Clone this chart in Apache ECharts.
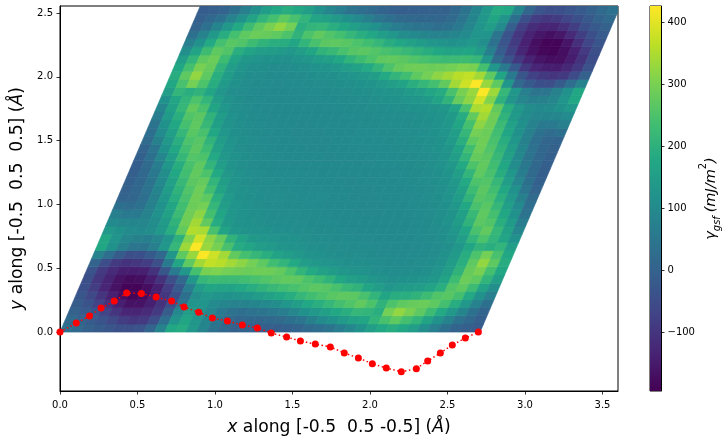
<!DOCTYPE html>
<html><head><meta charset="utf-8">
<script src="https://cdn.jsdelivr.net/npm/echarts@6/dist/echarts.min.js"></script>
<style>html,body{margin:0;padding:0;background:#fff}#c{width:728px;height:445px}</style>
</head><body><div id="c"></div>
<script>
const heatRows = [
[40,20,0,-15,-30,-42,-45,-35,5,80,175,185,135,85,45,15,0,0,-5,-8,-10,-5,5,18,30,42,65,90,115,150,175,190,175,150,110,70,35,5,-8,-12],
[20,5,-18,-35,-58,-85,-98,-90,-50,30,125,170,130,85,50,22,10,12,12,15,20,35,50,75,100,120,140,160,170,210,245,270,240,210,165,120,80,40,15,-8],
[0,-18,-30,-70,-100,-130,-133,-120,-90,-15,95,150,125,90,60,40,30,38,45,55,65,90,115,135,155,175,195,215,210,195,295,325,300,270,230,180,135,85,40,5],
[-15,-35,-70,-105,-140,-165,-163,-142,-105,-45,45,125,125,100,85,80,80,85,95,105,130,150,175,195,215,240,255,275,250,205,250,270,280,285,270,240,190,135,80,35],
[-30,-58,-100,-140,-172,-188,-178,-145,-98,-42,35,110,135,125,120,125,130,145,160,175,190,215,235,250,265,272,268,245,210,170,190,195,205,230,255,265,240,180,120,70],
[-42,-85,-130,-165,-188,-190,-172,-140,-85,-20,65,145,170,165,165,175,190,205,220,235,245,258,268,262,245,220,205,170,150,130,140,145,150,165,195,255,270,230,165,110],
[-45,-98,-133,-163,-178,-172,-145,-105,-45,15,130,215,230,225,225,235,245,255,268,275,272,250,230,205,175,155,145,130,122,112,115,120,124,132,165,230,285,270,210,150],
[-35,-90,-120,-142,-145,-140,-105,-30,60,130,240,300,305,295,290,285,290,288,278,250,210,180,160,145,130,122,118,112,108,104,106,108,112,124,150,205,280,300,240,175],
[5,-50,-90,-105,-98,-85,-45,60,170,270,340,370,360,340,320,295,270,235,210,180,150,135,125,118,113,110,108,104,102,100,102,104,108,120,145,195,270,325,270,190],
[80,30,-15,-45,-42,-20,15,130,270,330,425,380,340,275,240,215,195,165,148,135,122,116,112,108,105,103,102,100,99,98,100,102,106,115,140,190,250,295,245,175],
[175,115,75,50,45,70,130,215,335,425,330,300,245,185,170,150,140,128,122,118,112,108,105,103,101,100,99,98,97,97,98,100,104,112,130,170,205,195,210,150],
[175,125,90,75,72,90,125,200,310,385,320,280,205,165,138,130,125,120,116,112,106,104,102,100,99,98,97,96,96,97,99,102,108,122,150,210,250,210,170,115],
[135,115,102,95,105,135,190,275,355,345,245,165,130,122,118,115,112,110,107,105,102,101,99,98,97,96,96,95,96,98,100,104,112,130,170,245,275,215,160,90],
[100,88,85,90,105,140,205,290,340,275,185,138,122,115,110,107,106,104,103,102,100,99,97,96,95,95,95,96,97,99,102,108,118,145,205,268,255,195,140,65],
[70,58,58,80,115,160,225,290,320,240,170,130,118,112,108,105,104,103,102,101,98,97,96,95,94,94,95,96,98,100,103,110,122,155,220,272,240,175,120,42],
[35,25,40,75,120,170,235,285,295,215,150,125,115,110,106,104,102,101,100,99,97,96,95,94,93,94,95,97,99,101,105,113,130,175,245,265,215,155,100,30],
[5,8,30,75,130,190,245,290,270,195,140,120,112,108,105,103,102,100,100,99,96,95,94,94,94,95,96,98,100,103,108,118,145,205,262,250,195,135,75,18],
[0,12,38,85,145,205,255,288,235,165,128,116,110,106,103,102,100,99,98,98,95,95,94,94,95,96,97,99,102,105,112,125,160,230,268,235,175,115,50,5],
[-5,12,45,95,160,220,268,278,210,148,122,112,107,104,101,100,100,98,97,97,95,94,95,95,96,97,99,101,104,108,116,135,180,250,258,215,150,90,35,-5],
[-8,15,55,105,175,235,275,250,180,135,118,110,105,102,100,99,99,98,97,96,95,95,95,96,97,98,100,102,106,112,122,150,210,272,245,190,130,65,20,-10],
[-10,20,65,130,190,245,272,210,150,122,112,106,102,100,98,97,96,95,95,95,96,97,98,99,99,100,102,105,110,118,135,180,250,275,235,175,105,55,15,-8],
[-5,35,90,150,215,258,250,180,135,116,108,104,101,99,97,96,95,95,94,95,97,97,98,100,100,101,104,107,112,122,148,210,278,268,220,160,95,45,12,-5],
[5,50,115,175,235,268,230,160,125,112,105,102,99,97,96,95,94,94,95,95,98,98,99,100,102,103,106,110,116,128,165,235,288,255,205,145,85,38,12,0],
[18,75,135,195,250,262,205,145,118,108,103,100,98,96,95,94,94,94,95,96,99,100,100,102,103,105,108,112,120,140,195,270,290,245,190,130,75,30,8,5],
[30,100,155,215,265,245,175,130,113,105,101,99,97,95,94,93,94,95,96,97,99,100,101,102,104,106,110,115,125,150,215,295,285,235,170,120,75,40,25,35],
[42,120,175,240,272,220,155,122,110,103,100,98,96,95,94,94,95,96,97,98,101,102,103,104,105,108,112,118,130,170,240,320,290,225,160,115,80,58,58,70],
[65,140,195,255,268,205,145,118,108,102,99,97,96,95,95,95,96,97,99,100,102,103,104,106,107,110,115,122,138,185,275,340,290,205,140,105,90,85,88,100],
[90,160,215,275,245,170,130,112,104,100,98,96,95,96,96,97,98,99,101,102,105,107,110,112,115,118,122,130,165,245,345,355,275,190,135,105,95,102,115,135],
[115,170,210,250,210,150,122,108,102,99,97,96,96,97,98,99,100,102,104,106,112,116,120,125,130,138,165,205,280,320,385,310,200,125,90,72,75,90,125,175],
[150,210,195,205,170,130,112,104,100,98,97,97,98,99,100,101,103,105,108,112,118,122,128,140,150,170,185,245,300,330,425,335,215,130,70,45,50,75,115,175],
[175,245,295,250,190,140,115,106,102,100,98,99,100,102,103,105,108,112,116,122,135,148,165,195,215,240,275,340,380,425,330,270,130,15,-20,-42,-45,-15,30,80],
[190,270,325,270,195,145,120,108,104,102,100,102,104,108,110,113,118,125,135,150,180,210,235,270,295,320,340,360,370,340,270,170,60,-30,-75,-92,-102,-92,-55,0],
[175,240,300,280,205,150,124,112,108,106,104,108,112,118,122,130,145,160,180,210,250,278,288,290,285,290,295,305,300,240,130,60,-20,-92,-130,-142,-144,-125,-92,-38],
[150,210,270,285,230,165,132,124,120,115,112,122,130,145,155,175,205,230,250,272,275,268,255,245,235,225,225,230,215,130,20,-35,-92,-135,-160,-172,-170,-145,-105,-50],
[110,165,230,270,255,195,165,150,145,140,130,150,170,205,220,245,262,268,258,245,235,220,205,190,175,165,165,170,145,70,-12,-72,-128,-165,-185,-190,-172,-138,-90,-45],
[70,120,180,240,265,255,230,205,195,190,170,210,245,268,272,265,250,235,215,190,175,160,145,130,125,120,125,135,112,40,-32,-88,-138,-172,-190,-188,-160,-112,-65,-32],
[35,80,135,190,240,270,285,280,270,250,205,250,275,255,240,215,195,175,150,130,105,95,85,80,80,85,100,125,125,50,-35,-95,-135,-158,-168,-155,-122,-82,-42,-18],
[5,40,85,135,180,230,270,300,325,295,195,210,215,195,175,155,135,115,90,65,55,45,38,30,40,60,90,125,150,100,-8,-80,-115,-130,-132,-112,-82,-42,-22,-2],
[-8,15,40,80,120,165,210,240,270,245,210,170,160,140,120,100,75,50,35,20,15,12,12,10,22,50,85,130,170,128,35,-42,-85,-96,-88,-65,-42,-22,3,20],
[-12,-8,5,35,70,110,150,175,190,175,150,115,90,65,42,30,18,5,-5,-10,-8,-5,0,0,15,45,85,135,185,178,85,10,-32,-45,-42,-32,-18,-2,20,40]
];
const pathX = [0,0.105,0.19,0.265,0.35,0.43,0.525,0.62,0.72,0.80,0.895,0.983,1.08,1.176,1.273,1.363,1.462,1.551,1.647,1.744,1.834,1.925,2.015,2.105,2.202,2.299,2.372,2.454,2.531,2.615,2.699];
const pathY = [0,0.07,0.125,0.188,0.243,0.305,0.302,0.274,0.243,0.196,0.156,0.11,0.086,0.055,0.031,-0.008,-0.039,-0.07,-0.094,-0.117,-0.164,-0.203,-0.248,-0.282,-0.311,-0.287,-0.227,-0.164,-0.102,-0.047,0];
const xTicks = [0,0.5,1,1.5,2,2.5,3,3.5];
const yTicks = [0,0.5,1,1.5,2,2.5];
const cbarTicks = [-100,0,100,200,300,400];
const cbarRange = [-195,427];
const latticeA = 2.71, latticeBx = 0.905, latticeBy = 2.555;
const viridis = ['#440154','#482475','#414487','#355f8d','#2a788e','#21918c','#22a884','#44bf70','#7ad151','#bddf26','#fde725'];

const N = heatRows.length;
const cells = [];
heatRows.forEach((row, j) => row.forEach((v, i) => cells.push([i, j, v])));
const P = (u, v) => [u * latticeA + v * latticeBx, v * latticeBy];
const FONT = '"DejaVu Sans"';
const chart = echarts.init(document.getElementById('c'), null, {renderer: 'canvas'});
const baseAxis = {
  axisLine: {show: true, onZero: false, lineStyle: {color: '#000', width: 1}},
  axisTick: {show: true, length: 3.5, lineStyle: {color: '#000', width: 0.8}},
  splitLine: {show: false}
};
const label = extra => Object.assign({color: '#000', fontFamily: FONT, fontSize: 10, margin: 7}, extra);
const nameFs = 17.2;
chart.setOption({
  animation: false,
  backgroundColor: '#fff',
  grid: [
    {left: 60, top: 6, width: 558, height: 385, show: true, borderColor: '#000', borderWidth: 1, backgroundColor: '#fff', containLabel: false},
    {left: 650, top: 6, width: 11, height: 385, show: true, borderColor: '#000', borderWidth: 1, containLabel: false}
  ],
  visualMap: {show: false, seriesIndex: 0, dimension: 2, min: cbarRange[0], max: cbarRange[1], inRange: {color: viridis}},
  xAxis: [
    Object.assign({}, baseAxis, {gridIndex: 0, type: 'value', min: 0, max: 3.6, position: 'bottom',
      axisTick: Object.assign({}, baseAxis.axisTick, {customValues: xTicks}),
      axisLabel: label({margin: 9, customValues: xTicks, formatter: v => v.toFixed(1)}),
      nameLocation: 'middle', nameGap: 28,
      name: '{i|x} along [-0.5  0.5 -0.5] ({i|Å})',
      nameTextStyle: {fontFamily: FONT, fontSize: nameFs, color: '#000', rich: {i: {fontFamily: FONT, fontSize: nameFs, fontStyle: 'italic', color: '#000'}}}
    }),
    {gridIndex: 1, type: 'value', min: 0, max: 1, show: false}
  ],
  yAxis: [
    Object.assign({}, baseAxis, {gridIndex: 0, type: 'value', min: -0.462, max: 2.555, position: 'left',
      axisTick: Object.assign({}, baseAxis.axisTick, {customValues: yTicks}),
      axisLabel: label({customValues: yTicks, formatter: v => v.toFixed(1)}),
      nameLocation: 'middle', nameGap: 29, nameRotate: 90,
      name: '{i|y} along [-0.5  0.5  0.5] ({i|Å})',
      nameTextStyle: {fontFamily: FONT, fontSize: nameFs, color: '#000', rich: {i: {fontFamily: FONT, fontSize: nameFs, fontStyle: 'italic', color: '#000'}}}
    }),
    Object.assign({}, baseAxis, {gridIndex: 1, type: 'value', min: cbarRange[0], max: cbarRange[1], position: 'right',
      axisTick: Object.assign({}, baseAxis.axisTick, {customValues: cbarTicks}),
      axisLabel: label({margin: 6.5, customValues: cbarTicks, formatter: v => String(v).replace('-', '\u2212')}),
      nameLocation: 'middle', nameGap: 36, nameRotate: 90,
      name: '{g|γ}{s|gsf} {g|(mJ/m}{t|2}{g|)}',
      nameTextStyle: {color: '#000', fontFamily: FONT, rich: {
        g: {fontFamily: FONT, fontSize: 14.5, fontStyle: 'italic', color: '#000', lineHeight: 24},
        s: {fontFamily: FONT, fontSize: 10, fontStyle: 'italic', color: '#000', verticalAlign: 'bottom', lineHeight: 24},
        t: {fontFamily: FONT, fontSize: 10, color: '#000', verticalAlign: 'top', lineHeight: 24}
      }}
    })
  ],
  series: [
    {
      type: 'custom', xAxisIndex: 0, yAxisIndex: 0, z: 1, silent: true, clip: true,
      encode: {x: 0, y: 1},
      data: cells,
      renderItem: (params, api) => {
        const i = api.value(0), j = api.value(1), c = api.visual('color');
        const pts = [P(i/N, j/N), P((i+1)/N, j/N), P((i+1)/N, (j+1)/N), P(i/N, (j+1)/N)].map(p => api.coord(p));
        return {type: 'polygon', shape: {points: pts}, style: {fill: c, stroke: c, lineWidth: 0.7}};
      }
    },
    {
      type: 'line', xAxisIndex: 0, yAxisIndex: 0, z: 3, clip: false, silent: true,
      data: pathX.map((x, k) => [x, pathY[k]]),
      symbol: 'circle', symbolSize: 7,
      itemStyle: {color: '#ff0000'},
      lineStyle: {color: '#ff0000', width: 1.5, type: [1.5, 2.5]}
    },
    {
      type: 'custom', xAxisIndex: 1, yAxisIndex: 1, z: 1, silent: true,
      data: [[0, cbarRange[0], 1, cbarRange[1]]],
      renderItem: (params, api) => {
        const a = api.coord([api.value(0), api.value(1)]), b = api.coord([api.value(2), api.value(3)]);
        return {type: 'rect', shape: {x: a[0], y: b[1], width: b[0]-a[0], height: a[1]-b[1]},
          style: {fill: new echarts.graphic.LinearGradient(0, 1, 0, 0, viridis.map((c, k) => ({offset: k/(viridis.length-1), color: c})))}};
      }
    }
  ]
});
</script></body></html>
